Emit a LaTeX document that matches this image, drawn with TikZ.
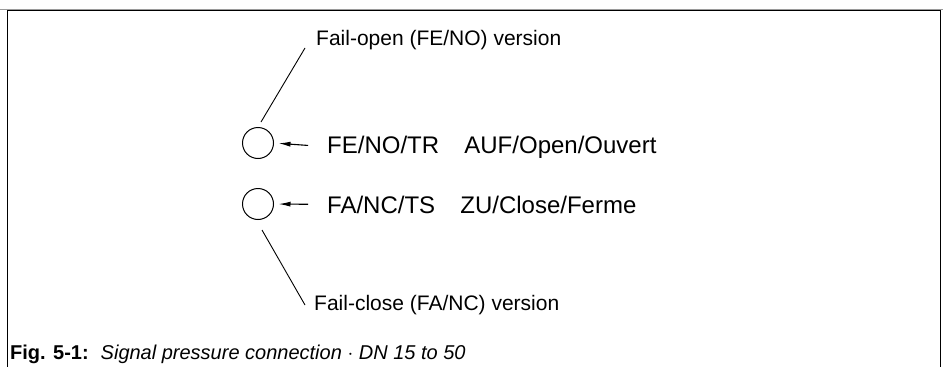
\documentclass[tikz,border=0pt]{standalone}
\usepackage{fontspec}
\setmainfont{Liberation Sans}
\usepackage{tikz}
\usetikzlibrary{arrows.meta,positioning}
\definecolor{FrameGrey}{HTML}{9A9A9A}

\begin{document}
\begin{tikzpicture}[x=1pt, y=-1pt, node distance=29pt,
  port/.style={draw, circle, line width=1.0pt, minimum size=31pt, inner sep=0pt},
  code/.style={anchor=base west, inner sep=0pt, font=\fontsize{24}{28}\selectfont},
  callout/.style={anchor=base west, inner sep=0pt, font=\fontsize{21}{25}\selectfont},
  lead/.style={line width=0.9pt},
  feed/.style={line width=1.1pt, -{Latex[length=12pt, width=5pt]}, shorten <=19pt, shorten >=4.5pt}]
\useasboundingbox (0,0) rectangle (943,367);
% frame, open at the bottom
\draw[FrameGrey, line width=0.6pt] (0,8.8) -- (943,8.8);
\draw[line width=1.2pt] (7.5,367) -- (7.5,10.8) -- (940.8,10.8) -- (940.8,367);
% signal pressure ports
\node[port] (portA) at (258,143) {};
\node[port, below=of portA] (portB) {};
\node[code] (codeA) at (327,153) {FE/NO/TR\hspace{1.05em}AUF/Open/Ouvert};
\node[code] (codeB) at (327,213) {FA/NC/TS\hspace{1.05em}ZU/Close/Ferme};
\draw[feed] (codeA.west) -- (portA.east);
\draw[feed] (codeB.west) -- (portB.east);
% version callouts
\node[callout] (lblOpen) at (316,45) {Fail-open (FE/NO) version};
\node[callout] (lblClose) at (314,310) {Fail-close (FA/NC) version};
\coordinate (openTip) at ([shift={(-11,3)}]lblOpen.base west);
\coordinate (openFoot) at ([shift={(3,-21)}]portA.center);
\coordinate (closeTip) at ([shift={(-9,-5)}]lblClose.base west);
\coordinate (closeFoot) at ([shift={(4,26)}]portB.center);
\draw[lead] (openTip) -- (openFoot);
\draw[lead] (closeFoot) -- (closeTip);
% caption
\node[anchor=base west, inner sep=0pt, font=\fontsize{20}{24}\selectfont] (caption) at (10,359)
  {\textbf{Fig. 5-1:}\hspace{0.6em}\textit{Signal pressure connection $\cdot$ DN 15 to 50}};
\end{tikzpicture}
\end{document}
